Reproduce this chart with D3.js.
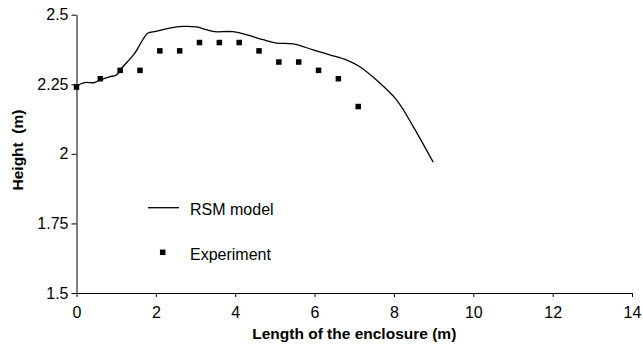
<!DOCTYPE html>
<html>
<head>
<meta charset="utf-8">
<script src="https://cdn.jsdelivr.net/npm/d3@7"></script>
<style>
  html, body { margin: 0; padding: 0; background: #fff; }
  svg { display: block; font-family: "Liberation Sans", Arial, sans-serif; }
</style>
</head>
<body>
<svg id="chart" width="643" height="346"></svg>
<script>
// ---- data ----
const rsmX = [0, 0.2, 0.45, 0.58, 0.83, 1.0, 1.17, 1.46, 1.67, 1.8, 2.0, 2.35, 2.68, 3.02, 3.27, 3.48, 3.94, 4.28, 4.7, 5.04, 5.46, 5.96, 6.38, 6.8, 7.14, 7.56, 8.07, 8.49, 8.99];
const rsmY = [2.244, 2.256, 2.256, 2.265, 2.277, 2.283, 2.313, 2.36, 2.41, 2.434, 2.44, 2.452, 2.458, 2.456, 2.446, 2.439, 2.439, 2.428, 2.41, 2.398, 2.395, 2.374, 2.356, 2.338, 2.313, 2.265, 2.193, 2.097, 1.97];
const expX = [0, 0.6, 1.1, 1.6, 2.1, 2.6, 3.1, 3.6, 4.1, 4.6, 5.1, 5.6, 6.1, 6.6, 7.1];
const expY = [2.24, 2.27, 2.30, 2.30, 2.37, 2.37, 2.40, 2.40, 2.40, 2.37, 2.33, 2.33, 2.30, 2.27, 2.17];
const xTicks = [0, 2, 4, 6, 8, 10, 12, 14];
const yTicks = [1.5, 1.75, 2, 2.25, 2.5];
const yTickLabels = ["1.5", "1.75", "2", "2.25", "2.5"];
const seriesNames = ["RSM model", "Experiment"];
const xTitle = "Length of the enclosure (m)";
const yTitle = "Height  (m)";

// ---- layout ----
const svg = d3.select("#chart");
const x = d3.scaleLinear().domain([0, 14]).range([76.5, 632]);
const y = d3.scaleLinear().domain([1.5, 2.5]).range([293, 14.7]);

// axes
const xAxis = d3.axisBottom(x).tickValues(xTicks).tickSize(4).tickSizeOuter(0).tickPadding(10).tickFormat(d3.format("d"));
const yAxis = d3.axisLeft(y).tickValues(yTicks).tickSize(5).tickSizeOuter(0).tickPadding(3)
  .tickFormat((d, i) => yTickLabels[i]);

const gx = svg.append("g").attr("transform", "translate(0,293)").call(xAxis);
const gy = svg.append("g").attr("transform", "translate(76.5,0)").call(yAxis);
[gx, gy].forEach(g => {
  g.selectAll("path.domain").attr("stroke", "#000").attr("stroke-width", 1);
  g.selectAll(".tick line").attr("stroke", "#000").attr("stroke-width", 1);
  g.selectAll(".tick text").attr("fill", "#000").style("font-size", "16px")
    .style("font-family", "'Liberation Sans', Arial, sans-serif");
});

// RSM line
const rsm = rsmX.map((v, i) => [v, rsmY[i]]);
const line = d3.line().x(d => x(d[0])).y(d => y(d[1])).curve(d3.curveCatmullRom.alpha(0.5));
svg.append("path").datum(rsm).attr("d", line)
  .attr("fill", "none").attr("stroke", "#000").attr("stroke-width", 1.3);

// Experiment markers
const ms = 5.5;
svg.append("g").selectAll("rect").data(expX.map((v, i) => [v, expY[i]])).join("rect")
  .attr("x", d => x(d[0]) - ms / 2).attr("y", d => y(d[1]) - ms / 2)
  .attr("width", ms).attr("height", ms).attr("fill", "#000");

// legend
const lg = svg.append("g");
lg.append("line").attr("x1", 148).attr("x2", 179).attr("y1", 207.7).attr("y2", 207.7)
  .attr("stroke", "#000").attr("stroke-width", 1.3);
lg.append("text").attr("x", 190).attr("y", 215).style("font-size", "16px").text(seriesNames[0]);
lg.append("rect").attr("x", 162.7 - ms / 2).attr("y", 252.3 - ms / 2).attr("width", ms).attr("height", ms).attr("fill", "#000");
lg.append("text").attr("x", 190).attr("y", 259.5).style("font-size", "16px").text(seriesNames[1]);

// titles
svg.append("text").attr("x", x(7)).attr("y", 338.5).attr("text-anchor", "middle")
  .style("font-size", "15.5px").style("font-weight", "bold").text(xTitle);
svg.append("text").attr("transform", "translate(22.5,150) rotate(-90)").attr("text-anchor", "middle")
  .style("font-size", "15.5px").style("font-weight", "bold").style("white-space", "pre").text(yTitle);
</script>
</body>
</html>
